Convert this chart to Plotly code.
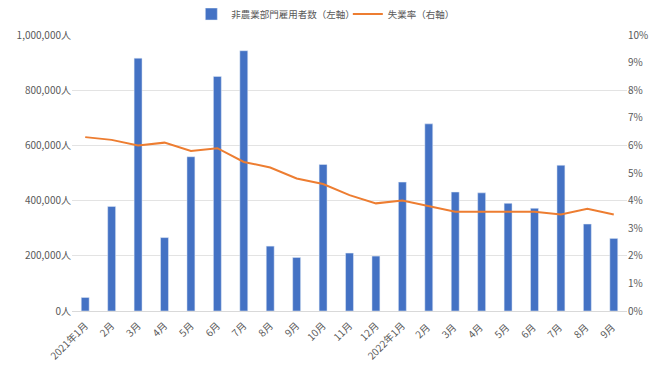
import plotly.graph_objects as go

months = ["2021年1月", "2月", "3月", "4月", "5月", "6月", "7月", "8月", "9月", "10月", "11月", "12月",
          "2022年1月", "2月 ", "3月 ", "4月 ", "5月 ", "6月 ", "7月 ", "8月 ", "9月 "]
payrolls = [49000, 379000, 916000, 266000, 559000, 850000, 943000, 235000, 194000, 531000, 210000, 199000,
            467000, 678000, 431000, 428000, 390000, 372000, 528000, 315000, 263000]
unemployment = [6.3, 6.2, 6.0, 6.1, 5.8, 5.9, 5.4, 5.2, 4.8, 4.6, 4.2, 3.9,
                4.0, 3.8, 3.6, 3.6, 3.6, 3.6, 3.5, 3.7, 3.5]

left_ticks = [0, 200000, 400000, 600000, 800000, 1000000]
left_labels = [f"{v:,}人" for v in left_ticks]
right_ticks = list(range(0, 11))
right_labels = [f"{v}%" for v in right_ticks]

font_family = "Noto Sans CJK JP, Noto Sans, sans-serif"
grey = "#595959"

fig = go.Figure()
fig.add_trace(go.Bar(x=months, y=payrolls, name="非農業部門雇用者数（左軸）",
                     marker_color="#4472C4", yaxis="y", legend="legend"))
fig.add_trace(go.Scatter(x=months, y=unemployment, name="失業率（右軸）", mode="lines",
                         line=dict(color="#ED7D31", width=2), yaxis="y2", legend="legend2"))

leg_common = dict(orientation="h", y=1.076, yanchor="middle",
                  font=dict(size=9.5, color=grey), bgcolor="rgba(0,0,0,0)")

fig.update_layout(
    width=644, height=355,
    margin=dict(l=64, r=25, t=27, b=52, autoexpand=False),
    paper_bgcolor="white", plot_bgcolor="white",
    font=dict(family=font_family, size=11, color=grey),
    bargap=0.7,
    showlegend=True,
    legend=dict(x=0.215, xanchor="left", **leg_common),
    legend2=dict(x=0.497, xanchor="left", **leg_common),
    xaxis=dict(type="category", tickangle=-45, showgrid=False, showline=True,
               linecolor="#D9D9D9", ticks="", tickfont=dict(size=10, color=grey),
               ticklabelstandoff=4, automargin=False),
    yaxis=dict(range=[0, 1000000], tickvals=left_ticks, ticktext=left_labels,
               showgrid=True, gridcolor="#E3E3E3", zeroline=False, ticks="",
               tickfont=dict(size=10, color=grey), automargin=False),
    yaxis2=dict(range=[0, 10], tickvals=right_ticks, ticktext=right_labels,
                overlaying="y", side="right", showgrid=False, zeroline=False, ticks="",
                tickfont=dict(size=10, color=grey), automargin=False),
)

fig.write_html("out.html")
